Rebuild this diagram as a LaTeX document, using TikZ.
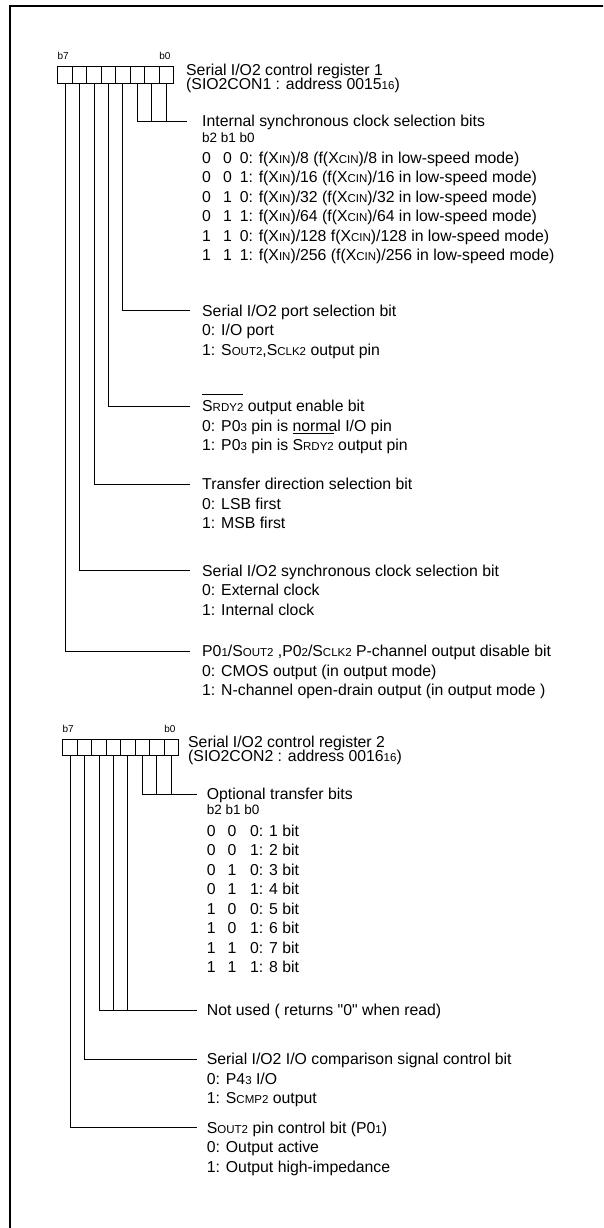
\documentclass[tikz,border=0pt]{standalone}
\usepackage{fontspec}
\setmainfont{Liberation Sans}
\usetikzlibrary{positioning}

\newcommand\lc[1]{{\fontsize{11.5pt}{11.5pt}\selectfont #1}}
\newcommand\barred[1]{\setbox0\hbox{#1}\rlap{\rule[16.5pt]{\wd0}{0.7pt}}\box0\relax}

\tikzset{
  regbit/.style={draw,line width=0.7pt,minimum width=14.45pt,
                 minimum height=16.3pt,inner sep=0pt},
  head/.style={anchor=west,inner sep=0pt,text height=11.3pt,text depth=0pt,
               font=\fontsize{15.8pt}{19.5pt}\selectfont},
  bitnum/.style={inner sep=0pt,font=\fontsize{10pt}{10pt}\selectfont},
  bithdr/.style={head,text height=9.7pt,font=\fontsize{13.5pt}{14pt}\selectfont},
  wire/.style={line width=0.7pt},
}

\begin{document}
\begin{tikzpicture}[x=1pt,y=-1pt]
    \useasboundingbox (0,0) rectangle (603,1228);
    \clip (0,0) rectangle (603,1228);
    % Frame
    \draw[line width=2pt] (9.5,1240) |- (620,6);

    % Register 1
    \foreach \b in {0,...,7}
      \node[regbit] (ra\b) at ({166.1-14.45*\b},74.8) {};
    \node[bitnum,anchor=base west] (ra-hi) at ([yshift=6.3pt]ra7.north west) {b7};
    \node[bitnum,anchor=base east] (ra-lo) at ([xshift=-3pt,yshift=6.3pt]ra0.north east) {b0};
    \node[head] (ttl-a) at (186,70) {Serial I/O2 control register 1};
    \node[head] (ttl-a2) at ([yshift=-13.5pt]ttl-a.west) {(SIO2CON1 : address 0015\lc{16})};

    \node[head] (isc)  at (202,121)   {Internal synchronous clock selection bits};
    \node[bithdr] (isc-hdr) at ([yshift=-16.3pt]isc.west) {b2 b1 b0};
    \foreach \ba/\bb/\bc/\t [count=\i] in {
        0/0/0/{f(X\lc{IN})/8 (f(X\lc{CIN})/8 in low-speed mode)},
        0/0/1/{f(X\lc{IN})/16 (f(X\lc{CIN})/16 in low-speed mode)},
        0/1/0/{f(X\lc{IN})/32 (f(X\lc{CIN})/32 in low-speed mode)},
        0/1/1/{f(X\lc{IN})/64 (f(X\lc{CIN})/64 in low-speed mode)},
        1/1/0/{f(X\lc{IN})/128 f(X\lc{CIN})/128 in low-speed mode)},
        1/1/1/{f(X\lc{IN})/256 (f(X\lc{CIN})/256 in low-speed mode)}}
      \node[head] (isc-\i) at ([yshift={-(17+19.5*\i)*1pt}]isc.west)
        {\makebox[21pt][l]{\ba}\makebox[16.6pt][l]{\bb}\bc: \t};

    \node[head] (psel) at (202,310.7) {Serial I/O2 port selection bit};
    \node[head] (srdy) at (202,406) {\barred{S\lc{RDY2}} output enable bit};
    \node[head] (tdir) at (202,484.3) {Transfer direction selection bit};
    \node[head] (sclk) at (202,570.5) {Serial I/O2 synchronous clock selection bit};
    \node[head] (pdis) at (202,651)
      {P0\lc{1}/S\lc{OUT2} ,P0\lc{2}/S\lc{CLK2} P-channel output disable bit};

    % Register 2
    \foreach \b in {0,...,7}
      \node[regbit] (rb\b) at ({171.1-14.45*\b},747.5) {};
    \node[bitnum,anchor=base west] (rb-hi) at ([yshift=6.3pt]rb7.north west) {b7};
    \node[bitnum,anchor=base east] (rb-lo) at ([xshift=-3pt,yshift=6.3pt]rb0.north east) {b0};
    \node[head] (ttl-b) at (188,742) {Serial I/O2 control register 2};
    \node[head] (ttl-b2) at ([yshift=-14pt]ttl-b.west) {(SIO2CON2 : address 0016\lc{16})};

    \node[head] (otb)  at (206.7,794)  {Optional transfer bits};
    \node[bithdr] (otb-hdr) at ([yshift=-15.5pt]otb.west) {b2 b1 b0};
    \foreach \ba/\bb/\bc/\t [count=\i] in {
        0/0/0/1 bit,0/0/1/2 bit,0/1/0/3 bit,0/1/1/4 bit,
        1/0/0/5 bit,1/0/1/6 bit,1/1/0/7 bit,1/1/1/8 bit}
      \node[head] (otb-\i) at ([yshift={-(17+19.5*\i)*1pt}]otb.west)
        {\makebox[20.7pt][l]{\ba}\makebox[22.6pt][l]{\bb}\bc: \t};

    \node[head] (nuse) at (206.7,1010)
      {Not used ( returns \textquotedbl0\textquotedbl\ when read)};
    \node[head] (cmp)  at (206.7,1059.3) {Serial I/O2 I/O comparison signal control bit};
    \node[head] (sout) at (206.7,1127.7) {S\lc{OUT2} pin control bit (P0\lc{1})};

    % Option lines
    \foreach \h/\ta/\tb in {
        psel/{0: I/O port}/{1: S\lc{OUT2},S\lc{CLK2} output pin},
        srdy/{0: P0\lc{3} pin is normal I/O pin}/{1: P0\lc{3} pin is \barred{S\lc{RDY2}} output pin},
        tdir/{0: LSB first}/{1: MSB first},
        sclk/{0: External clock}/{1: Internal clock},
        pdis/{0: CMOS output (in output mode)}/{1: N-channel open-drain output (in output mode )},
        cmp/{0: P4\lc{3} I/O}/{1: S\lc{CMP2} output},
        sout/{0: Output active}/{1: Output high-impedance}}{
      \node[head] (\h-1) at ([yshift=-19.5pt]\h.west) {\ta};
      \node[head] (\h-2) at ([yshift=-39pt]\h.west) {\tb};
    }

    % Connectors
    \draw[wire,shorten >=15pt] (ra2.south) |- (isc.west);
    \foreach \b in {0,1}
      \draw[wire] (ra\b.south) -- (ra\b.south |- isc.west);
    \foreach \b/\h in {3/psel,4/srdy,5/tdir,6/sclk,7/pdis}
      \draw[wire,shorten >=12pt] (ra\b.south) |- (\h.west);

    \draw[wire,shorten >=10pt] (rb2.south) |- (otb.west);
    \foreach \b in {0,1}
      \draw[wire] (rb\b.south) -- (rb\b.south |- otb.west);
    \draw[wire,shorten >=10pt] (rb5.south) |- (nuse.west);
    \foreach \b in {3,4}
      \draw[wire] (rb\b.south) -- (rb\b.south |- nuse.west);
    \foreach \b/\h in {6/cmp,7/sout}
      \draw[wire,shorten >=10pt] (rb\b.south) |- (\h.west);
\end{tikzpicture}
\end{document}
